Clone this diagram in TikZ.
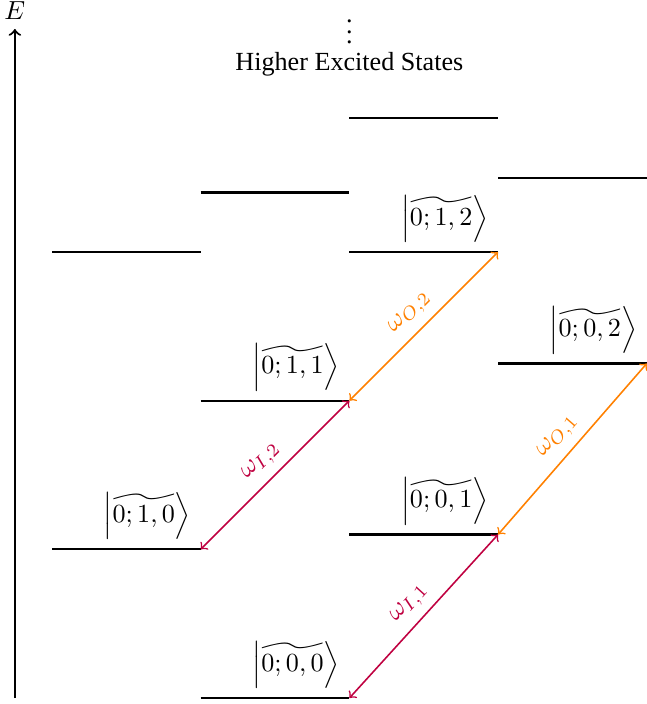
\documentclass[tikz,border=0pt]{standalone}
\usepackage{amsmath,amssymb}
\usepackage[no-math]{fontspec}
\setmainfont{Liberation Serif}
\usepackage{xcolor}
\usetikzlibrary{arrows,positioning}
\definecolor{colorI}{HTML}{BF0040}
\definecolor{colorO}{HTML}{FF8000}

\begin{document}
\begin{tikzpicture}[
  x=1cm,
  y=1cm,
  level/.style={line width=0.8pt},
  axis/.style={->, line width=0.8pt},
  ket/.style={above left},
  transI/.style={<->, color=colorI, line width=0.6pt},
  transO/.style={<->, color=colorO, line width=0.6pt},
  trlabel/.style={midway, above, sloped}
]
\useasboundingbox (-0.7,-0.08) rectangle (8.0,9.39);

% energy axis
\coordinate (ebot) at (-0.5,0);
\coordinate (etop) at (-0.5,9);
\draw[axis] (ebot) -- (etop) node[above] {$E$};

% labelled levels
\draw[level] (0,2) -- (2,2) coordinate (s10) node[ket] {$\left|\widetilde{0;1,0}\right\rangle$};
\draw[level] (2,0) -- (4,0) coordinate (s00) node[ket] {$\left|\widetilde{0;0,0}\right\rangle$};
\draw[level] (2,4) -- (4,4) coordinate (s11) node[ket] {$\left|\widetilde{0;1,1}\right\rangle$};
\draw[level] (4,2.2) -- (6,2.2) coordinate (s01) node[ket] {$\left|\widetilde{0;0,1}\right\rangle$};
\draw[level] (4,6) -- (6,6) coordinate (s12) node[ket] {$\left|\widetilde{0;1,2}\right\rangle$};
\draw[level] (6,4.5) -- (8,4.5) coordinate (s02) node[ket] {$\left|\widetilde{0;0,2}\right\rangle$};

% higher levels
\draw[level] (0,6) -- (2,6);
\draw[level] (2,6.8) -- (4,6.8);
\draw[level] (4,7.8) -- (6,7.8);
\draw[level] (6,7.0) -- (8,7.0);

\node (hes) at (4,8.53) {Higher Excited States};
\node[above=-4pt of hes] (dots) {$\vdots$};

% transitions
\draw[transI] (s00) -- node[trlabel] {$\omega_{I,1}$} (s01);
\draw[transO] (s01) -- node[trlabel] {$\omega_{O,1}$} (s02);
\draw[transI] (s10) -- node[trlabel] {$\omega_{I,2}$} (s11);
\draw[transO] (s11) -- node[trlabel] {$\omega_{O,2}$} (s12);
\end{tikzpicture}
\end{document}
